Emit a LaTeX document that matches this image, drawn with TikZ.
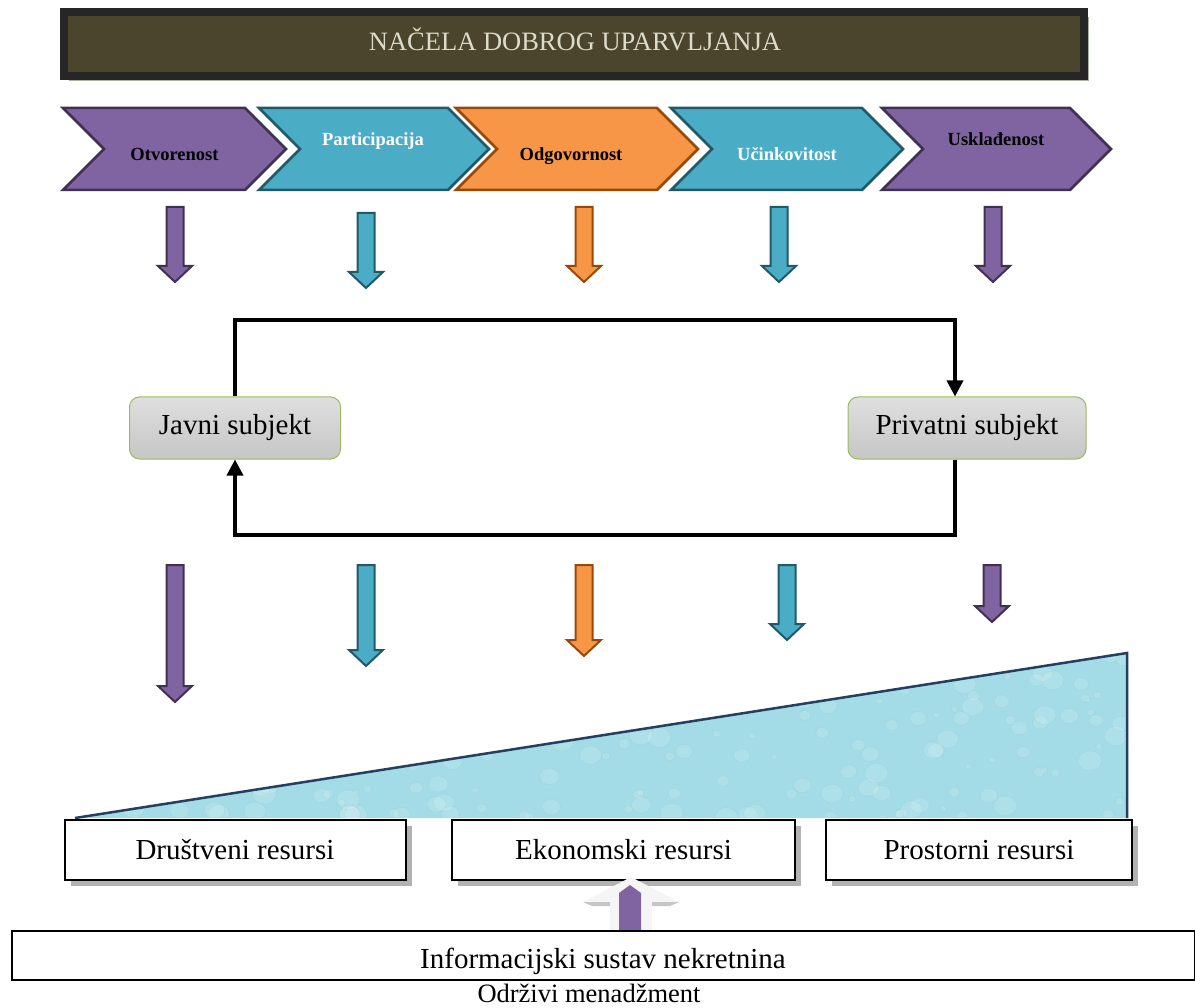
\documentclass[tikz,border=0pt]{standalone}
\usepackage{fontspec}
\setmainfont{Liberation Serif}
\usepackage{xcolor}
\usepackage{tikz}
\usetikzlibrary{arrows.meta,shadows}

\definecolor{vpurple}{HTML}{8064A2}
\definecolor{vpurpleD}{HTML}{3F3151}
\definecolor{vteal}{HTML}{4BACC6}
\definecolor{vtealD}{HTML}{215968}
\definecolor{vorange}{HTML}{F79646}
\definecolor{vorangeD}{HTML}{984807}
\definecolor{bannerfill}{HTML}{4A452C}
\definecolor{bannerline}{HTML}{262626}
\definecolor{bannershadow}{HTML}{A9B29A}
\definecolor{bannertext}{HTML}{DCDCCC}
\definecolor{subjline}{HTML}{9BBB59}
\definecolor{water}{HTML}{A3DCE6}
\definecolor{waterline}{HTML}{243F60}

% block arrow: x, top y, tip y, style
\newcommand\blkarrow[4]{%
  \draw[#4] (#1-8.5,#2) -- (#1+8.5,#2) -- (#1+8.5,#3-16) -- (#1+17,#3-16)
    -- (#1,#3) -- (#1-17,#3-16) -- (#1-8.5,#3-16) -- cycle;}

\begin{document}
\begin{tikzpicture}[x=1pt,y=-1pt,
    chev/.style={line width=2.5pt,line join=miter},
    chevtxt/.style={anchor=base,font=\fontsize{18.5}{20}\selectfont\bfseries},
    parr/.style={fill=vpurple,draw=vpurpleD,line width=2pt},
    tarr/.style={fill=vteal,draw=vtealD,line width=2pt},
    oarr/.style={fill=vorange,draw=vorangeD,line width=2pt},
    subj/.style={draw=subjline,line width=1pt,rounded corners=10pt,top color=gray!25,bottom color=gray!45,
      minimum width=#1,minimum height=62pt,font=\fontsize{29}{32}\selectfont},
    flow/.style={line width=3.5pt,-{Triangle[length=16pt,width=16pt]}},
    res/.style={draw,line width=2pt,fill=white,minimum height=60pt,font=\fontsize{29}{32}\selectfont,
      drop shadow={shadow xshift=6pt,shadow yshift=-6pt,fill=gray!60,opacity=1}}]
    \useasboundingbox (0,0) rectangle (1195,1008);
    %
    \node[draw=bannerline,line width=8pt,fill=bannerfill,minimum width=1020pt,minimum height=64pt,
      drop shadow={shadow xshift=5pt,shadow yshift=-5pt,fill=bannershadow,opacity=1}] (bn) at (574,44) {};
    \node[anchor=base,text=bannertext,font=\fontsize{26.5}{28}\selectfont] (bt) at (575,51) {NAČELA DOBROG UPARVLJANJA};
    %
    \draw[chev,fill=vpurple,draw=vpurpleD] (63,108) -- (245,108) -- (286,149) -- (245,190) -- (63,190) -- (104,149) -- cycle;
    \draw[chev,fill=vteal,draw=vtealD] (259,108) -- (448,108) -- (489,149) -- (448,190) -- (259,190) -- (300,149) -- cycle;
    \draw[chev,fill=vorange,draw=vorangeD] (456,108) -- (657,108) -- (698,149) -- (657,190) -- (456,190) -- (497,149) -- cycle;
    \draw[chev,fill=vteal,draw=vtealD] (671,108) -- (862,108) -- (903,149) -- (862,190) -- (671,190) -- (712,149) -- cycle;
    \draw[chev,fill=vpurple,draw=vpurpleD] (882,108) -- (1070,108) -- (1111,149) -- (1070,190) -- (882,190) -- (923,149) -- cycle;
    %
    \node[chevtxt] (c1) at (174.5,160.5) {Otvorenost};
    \node[chevtxt,text=white] (c2) at (373,145.5) {Participacija};
    \node[chevtxt] (c3) at (571,160.5) {Odgovornost};
    \node[chevtxt,text=white] (c4) at (787,160.5) {Učinkovitost};
    \node[chevtxt] (c5) at (996,145.5) {Usklađenost};
    %
    \blkarrow{175}{207}{282}{parr}
    \blkarrow{366}{213}{288}{tarr}
    \blkarrow{584}{207}{282}{oarr}
    \blkarrow{779}{207}{282}{tarr}
    \blkarrow{993}{207}{282}{parr}
    %
    \node[subj=211pt] (js) at (235,428) {Javni subjekt};
    \node[subj=238pt] (ps) at (967,428) {Privatni subjekt};
    \coordinate (tr) at (955,320);
    \coordinate (br) at (955,535);
    \draw[flow] (js.north) |- (tr) -- (tr |- ps.north);
    \draw[flow] (br |- ps.south) -- (br) -| (js.south);
    %
    \blkarrow{175}{565}{702}{parr}
    \blkarrow{366}{565}{666}{tarr}
    \blkarrow{584}{565}{656}{oarr}
    \blkarrow{787}{565}{640}{tarr}
    \blkarrow{992}{565}{622}{parr}
    %
    \begin{scope}
      \clip (75,818) -- (1127,653) -- (1127,818) -- cycle;
      \fill[water] (75,818) -- (1127,653) -- (1127,818) -- cycle;
      \pgfmathsetseed{12}
      \foreach \i in {1,...,220}{
        \pgfmathsetmacro\bx{75+rnd*1052}
        \pgfmathsetmacro\by{650+rnd*170}
        \pgfmathsetmacro\br{2+rnd*8}
        \draw[draw=vtealD!70,fill=white,draw opacity=.12,fill opacity=.13] (\bx,\by) ellipse ({\br*1.2} and \br);
      }
    \end{scope}
    \draw[draw=waterline,line width=2.5pt,line join=miter] (75,818) -- (1127,653) -- (1127,818);
    %
    \node[res,minimum width=341pt] (dr) at (235,850) {Društveni resursi};
    \node[res,minimum width=343pt] (er) at (623.5,850) {Ekonomski resursi};
    \node[res,minimum width=306pt] (pr) at (979,850) {Prostorni resursi};
    %
    \fill[gray!8] (610,931) -- (610,902) -- (583,902) -- (631,877) -- (679,902) -- (652,902) -- (652,931) -- cycle;
    \fill[gray!45] (583,902) -- (610,902) -- (610,906) -- (592,906) -- cycle;
    \fill[gray!45] (652,902) -- (679,902) -- (670,906) -- (652,906) -- cycle;
    \fill[vpurple] (619,931) -- (619,893) -- (630,885) -- (641,893) -- (641,931) -- cycle;
    %
    \node[draw,line width=1.5pt,minimum width=1183pt,minimum height=49pt,inner sep=0pt] (is) at (603.5,955.5) {};
    \node[anchor=base,font=\fontsize{29}{32}\selectfont] (ist) at (603,968) {Informacijski sustav nekretnina};
    \node[anchor=base,font=\fontsize{26.5}{28}\selectfont] (om) at (589,1002) {Održivi menadžment};
    %
\end{tikzpicture}
\end{document}
